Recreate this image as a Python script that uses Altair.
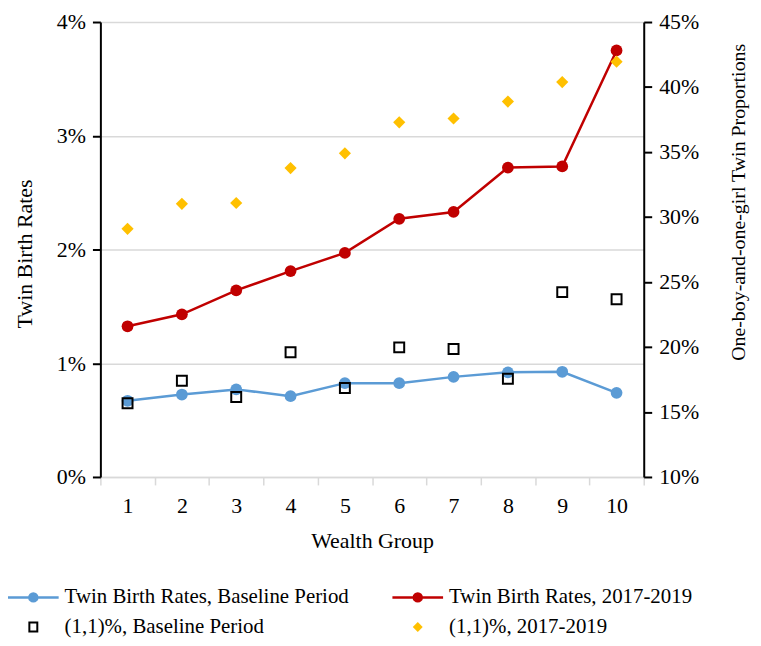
import altair as alt
import pandas as pd

# ---- data ----
groups = [1, 2, 3, 4, 5, 6, 7, 8, 9, 10]
rate_baseline = [0.0067, 0.00725, 0.0077, 0.0071, 0.00825, 0.00825, 0.0088, 0.0092, 0.00925, 0.0074]
rate_recent = [0.01325, 0.0143, 0.0164, 0.0181, 0.0197, 0.0227, 0.0233, 0.0272, 0.0273, 0.0375]
prop_baseline = [0.1567, 0.174, 0.1615, 0.1959, 0.1685, 0.1997, 0.1984, 0.1755, 0.2422, 0.2367]
prop_recent = [0.2909, 0.3101, 0.3108, 0.3376, 0.349, 0.3728, 0.3758, 0.3888, 0.4038, 0.4195]

names = [
    "Twin Birth Rates, Baseline Period",
    "Twin Birth Rates, 2017-2019",
    "(1,1)%, Baseline Period",
    "(1,1)%, 2017-2019",
]
colors = ["#5b9bd5", "#c00000", "#000000", "#ffc000"]

left_ticks = [0.0, 0.01, 0.02, 0.03, 0.04]
right_ticks = [0.10, 0.15, 0.20, 0.25, 0.30, 0.35, 0.40, 0.45]

FONT = "Liberation Serif"

rates = pd.DataFrame(
    {"group": groups * 2,
     "series": [names[0]] * 10 + [names[1]] * 10,
     "value": rate_baseline + rate_recent}
)
props_base = pd.DataFrame({"group": groups, "value": prop_baseline})
props_recent = pd.DataFrame({"group": groups, "value": prop_recent})

# legend symbols: line with dot, hollow square (filled frame), diamond
LINE_SYM = "M-5.1,0H5.1M-0.8,0A0.8,0.8 0 1,1 0.8,0A0.8,0.8 0 1,1 -0.8,0Z"
FRAME_SYM = "M-1,-1.1H1V1.1H-1Z M-0.6,-0.7V0.7H0.6V-0.7Z"


def pick(vals, default):
    e = repr(default) if isinstance(default, str) else str(default)
    for i in reversed(range(len(vals))):
        v = repr(vals[i]) if isinstance(vals[i], str) else str(vals[i])
        e = "(datum.value == '%s' ? %s : %s)" % (names[i], v, e)
    return e


shape_e = pick([LINE_SYM, LINE_SYM, FRAME_SYM], "diamond")
sw_e = pick([2.5, 2.5, 0], 0)

# legend lays out column by column: put entries in that order
legend_order = [names[0], names[2], names[1], names[3]]
legend_colors = [colors[0], colors[2], colors[1], colors[3]]

x = alt.X(
    "group:O",
    scale=alt.Scale(type="band", paddingInner=0, paddingOuter=0),
    axis=alt.Axis(
        title="Wealth Group", labelAngle=0, tickBand="extent",
        domainColor="#d9d9d9", domainWidth=1.5, tickColor="#d9d9d9",
        tickWidth=1.5, tickSize=8, labelPadding=11, labelFontSize=22,
        titleFontSize=22, titlePadding=14, grid=False,
    ),
)
left_axis = alt.Axis(
    title="Twin Birth Rates", format=".0%", values=left_ticks, orient="left",
    grid=True, gridColor="#d9d9d9", gridWidth=1.5,
    domainColor="black", domainWidth=2, tickColor="black", tickWidth=2,
    tickSize=8, labelPadding=7, labelFontSize=22, titleFontSize=22,
    titleX=-76, titleY=233, titleAngle=270, titleBaseline="middle",
    titleAlign="center",
)
right_axis = alt.Axis(
    title="One-boy-and-one-girl Twin Proportions", format=".0%",
    values=right_ticks, orient="right", grid=False,
    domainColor="black", domainWidth=2, tickColor="black", tickWidth=2,
    tickSize=8, labelPadding=7, labelFontSize=22, titleFontSize=20,
    titleX=95, titleY=181, titleAngle=270, titleBaseline="middle",
    titleAlign="center",
)
cscale = alt.Scale(domain=legend_order, range=legend_colors)
legend = alt.Legend(
    orient="none", legendX=-93, legendY=568.5, columns=2,
    labelFont=FONT, labelFontSize=21, labelColor="black", labelLimit=600,
    symbolSize=100, symbolOffset=15, labelOffset=21, rowPadding=8,
    columnPadding=38, padding=0,
    symbolType={"expr": shape_e},
    symbolStrokeWidth={"expr": sw_e},
)
yl = alt.Y("value:Q", scale=alt.Scale(domain=[0, 0.04], nice=False), axis=left_axis)
yr = alt.Y("value:Q", scale=alt.Scale(domain=[0.10, 0.45], nice=False), axis=right_axis)

line = alt.Chart(rates).mark_line(strokeWidth=2.5).encode(
    x=x, y=yl, color=alt.Color("series:N", scale=cscale, legend=legend, title="")
)
circ = alt.Chart(rates).mark_circle(size=140, opacity=1).encode(
    x=x, y=yl, color=alt.Color("series:N", scale=cscale, legend=None)
)
sq = alt.Chart(props_base).mark_point(
    shape="square", filled=False, color="black", strokeWidth=2, size=100, opacity=1
).encode(x=x, y=yr)
dia = alt.Chart(props_recent).mark_point(
    shape="diamond", filled=True, color="#ffc000", size=150, opacity=1
).encode(x=x, y=yr)

chart = (
    alt.layer(alt.layer(line, circ), alt.layer(sq, dia))
    .resolve_scale(y="independent")
    .properties(
        width=547, height=458, autosize="none",
        padding={"left": 93, "top": 12, "right": 110, "bottom": 160},
    )
    .configure_view(stroke=None)
    .configure_axis(labelFont=FONT, titleFont=FONT, labelColor="black",
                    titleColor="black", titleFontWeight="normal")
    .configure_legend(labelFont=FONT)
)

chart.save("out.html", embed_options={"renderer": "svg", "actions": False})
